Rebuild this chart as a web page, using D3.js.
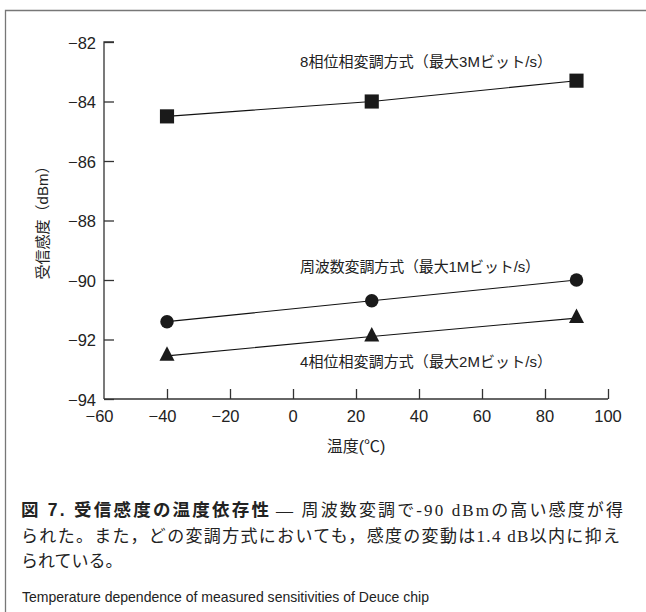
<!DOCTYPE html>
<html lang="ja">
<head>
<meta charset="utf-8">
<title>受信感度の温度依存性</title>
<script src="https://d3js.org/d3.v7.min.js"></script>
<style>
  body { margin: 0; background: #fff; }
  svg text { fill: #222; }
  .sans { font-family: "Liberation Sans", "Noto Sans CJK JP", sans-serif; }
  .serif { font-family: "Liberation Serif", "DejaVu Serif", "Noto Sans CJK JP", serif; }
</style>
</head>
<body>
<div id="chart"></div>
<script>
// temperatures (°C)
var temps = [-40, 25, 90];
// sensitivities (dBm)
var psk8 = [-84.5, -84.0, -83.3];
var fsk = [-91.4, -90.7, -90.0];
var psk4 = [-92.55, -91.9, -91.28];

var seriesNames = [
  "8相位相変調方式（最大3Mビット/s）",
  "周波数変調方式（最大1Mビット/s）",
  "4相位相変調方式（最大2Mビット/s）"
];
var xTicks = [-60, -40, -20, 0, 20, 40, 60, 80, 100];
var yTicks = [-82, -84, -86, -88, -90, -92, -94];

var W = 646, H = 612;
var svg = d3.select("#chart").append("svg")
  .attr("width", W).attr("height", H);

// frame
svg.append("path")
  .attr("d", "M5.5," + H + "V10.5H" + W)
  .attr("fill", "none").attr("stroke", "#777").attr("stroke-width", 1.3);

var x = d3.scaleLinear().domain([-60, 100]).range([104, 608]);
var y = d3.scaleLinear().domain([-94, -82]).range([399, 42]);

var fmt = function(d) { return String(d).replace("-", "\u2212"); };

// y axis, ticks pointing inward
var gy = svg.append("g").attr("transform", "translate(" + x(-60) + ",0)")
  .call(d3.axisRight(y).tickValues(yTicks).tickSize(10).tickFormat(""));
gy.select(".domain").attr("d", "M10," + y(-82) + "H0V" + y(-94));
gy.selectAll("line, path").attr("stroke", "#333").attr("stroke-width", 1.3);
yTicks.forEach(function(t) {
  svg.append("text").attr("class", "sans")
    .attr("x", 96).attr("y", y(t) + 1).attr("dy", "0.35em")
    .attr("text-anchor", "end").attr("font-size", 16.5)
    .text(fmt(t));
});

// x axis, ticks pointing up
var gx = svg.append("g").attr("transform", "translate(0," + y(-94) + ")")
  .call(d3.axisTop(x).tickValues(xTicks.slice(1)).tickSize(10).tickFormat(""));
gx.select(".domain").attr("d", "M" + x(-60) + ",0H" + x(100));
gx.selectAll("line, path").attr("stroke", "#333").attr("stroke-width", 1.3);
xTicks.forEach(function(t) {
  svg.append("text").attr("class", "sans")
    .attr("x", x(t) - (t < 0 ? 4.5 : 0)).attr("y", 416).attr("dy", "0.35em")
    .attr("text-anchor", "middle").attr("font-size", 16.5)
    .text(fmt(t));
});

// axis titles
svg.append("text").attr("class", "sans")
  .attr("x", 356).attr("y", 446).attr("dy", "0.35em")
  .attr("text-anchor", "middle").attr("font-size", 16)
  .text("温度(℃)");
svg.append("text").attr("class", "sans")
  .attr("transform", "translate(43,219) rotate(-90)")
  .attr("dy", "0.35em")
  .attr("text-anchor", "middle").attr("font-size", 15)
  .text("受信感度（dBm）");

var line = d3.line().x(function(d) { return x(d[0]); }).y(function(d) { return y(d[1]); });
var series = [psk8, fsk, psk4];
var triangle = "M0,-9.6L7.5,4.9L-7.5,4.9Z";
var markers = [
  d3.symbol().type(d3.symbolSquare).size(200)(),
  d3.symbol().type(d3.symbolCircle).size(143)(),
  triangle
];

series.forEach(function(vals, i) {
  var pts = temps.map(function(t, j) { return [t, vals[j]]; });
  svg.append("path").attr("d", line(pts))
    .attr("fill", "none").attr("stroke", "#111").attr("stroke-width", 1.1);
  svg.selectAll(null).data(pts).enter().append("path")
    .attr("transform", function(d) { return "translate(" + x(d[0]) + "," + y(d[1]) + ")"; })
    .attr("d", markers[i])
    .attr("fill", "#1a1a1a");
});

// series labels
var labelPos = [[300, 62, 252], [300, 267, 240], [300, 362, 252]];
seriesNames.forEach(function(s, i) {
  svg.append("text").attr("class", "sans")
    .attr("x", labelPos[i][0]).attr("y", labelPos[i][1]).attr("dy", "0.35em")
    .attr("font-size", 15)
    .attr("textLength", labelPos[i][2]).attr("lengthAdjust", "spacing")
    .text(s);
});

// caption
svg.append("text").attr("class", "sans").attr("font-weight", "bold")
  .attr("x", 21).attr("y", 516).attr("font-size", 17.5)
  .attr("textLength", 248).attr("lengthAdjust", "spacing")
  .text("図 7.  受信感度の温度依存性");
svg.append("text").attr("class", "serif")
  .attr("x", 276).attr("y", 516).attr("font-size", 17)
  .attr("textLength", 347).attr("lengthAdjust", "spacing")
  .text("— 周波数変調で-90 dBmの高い感度が得");
svg.append("text").attr("class", "serif").attr("x", 21).attr("y", 542).attr("font-size", 17)
  .attr("textLength", 599).attr("lengthAdjust", "spacing")
  .text("られた。また，どの変調方式においても，感度の変動は1.4 dB以内に抑え");
svg.append("text").attr("class", "serif").attr("x", 21).attr("y", 567).attr("font-size", 17)
  .text("られている。");
svg.append("text").attr("class", "sans").attr("x", 22).attr("y", 602).attr("font-size", 15)
  .attr("textLength", 407).attr("lengthAdjust", "spacingAndGlyphs")
  .text("Temperature dependence of measured sensitivities of Deuce chip");
</script>
</body>
</html>
